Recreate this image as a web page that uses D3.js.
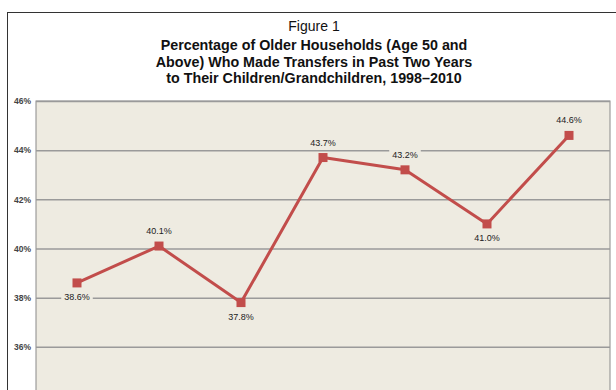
<!DOCTYPE html>
<html><head><meta charset="utf-8">
<script src="https://cdn.jsdelivr.net/npm/d3@7/dist/d3.min.js"></script>
<style>body{margin:0;background:#fff}svg{display:block}</style>
</head><body>
<svg id="c" width="616" height="390"></svg>
<script>
const years = ["1998","2000","2002","2004","2006","2008","2010"];
const values = [38.6, 40.1, 37.8, 43.7, 43.2, 41.0, 44.6];
const labelPos = ["below","above","below","above","above","below","above"];
const yTicks = [36, 38, 40, 42, 44, 46];
const titleLines = ["Percentage of Older Households (Age 50 and","Above) Who Made Transfers in Past Two Years","to Their Children/Grandchildren, 1998\u20132010"];

const svg = d3.select("#c");
const plot = {l: 36, r: 610, t: 101, b: 440};

svg.append("rect").attr("x", 7.5).attr("y", 12.5).attr("width", 640).attr("height", 420)
  .attr("fill", "#fff").attr("stroke", "#333").attr("stroke-width", 1);

svg.append("text").attr("x", 314).attr("y", 31).attr("text-anchor", "middle")
  .attr("font-family", "Liberation Sans, Arial, sans-serif").attr("font-size", 14).attr("fill", "#111")
  .text("Figure 1");
titleLines.forEach((t, i) => {
  svg.append("text").attr("x", 314).attr("y", 50 + i * 16.5).attr("text-anchor", "middle")
    .attr("font-family", "Liberation Sans, Arial, sans-serif").attr("font-size", 14.3)
    .attr("font-weight", "bold").attr("fill", "#111").text(t);
});

const x = d3.scalePoint().domain(years).range([plot.l, plot.r]).padding(0.5);
const y = d3.scaleLinear().domain([34, 46]).range([396, plot.t]);

svg.append("rect").attr("x", plot.l).attr("y", plot.t).attr("width", plot.r - plot.l)
  .attr("height", plot.b - plot.t).attr("fill", "#eeebe1").attr("stroke", "#8a8a8a").attr("stroke-width", 1);

const yAxis = d3.axisLeft(y).tickValues(yTicks).tickSize(-(plot.r - plot.l)).tickFormat(d => d + "%");
const ga = svg.append("g").attr("transform", `translate(${plot.l},0)`).call(yAxis);
ga.select(".domain").remove();
ga.selectAll(".tick line").attr("stroke", "#9a9a9a").attr("stroke-width", 1.5);
ga.selectAll(".tick text").attr("x", -5).attr("font-family", "Liberation Sans, Arial, sans-serif")
  .attr("font-size", 8.5).attr("font-weight", "bold").attr("fill", "#444");

const line = d3.line().x((d, i) => x(years[i])).y(d => y(d));
svg.append("path").datum(values).attr("d", line).attr("fill", "none")
  .attr("stroke", "#c24d4b").attr("stroke-width", 3).attr("stroke-linejoin", "round");

svg.selectAll("rect.m").data(values).enter().append("rect").attr("class", "m")
  .attr("x", (d, i) => x(years[i]) - 4.5).attr("y", d => y(d) - 4.5)
  .attr("width", 9).attr("height", 9).attr("fill", "#c24d4b");

const lg = svg.append("g");
values.forEach((v, i) => {
  const cx = x(years[i]);
  const cy = labelPos[i] === "above" ? y(v) - 12 : y(v) + 17;
  const txt = v.toFixed(1) + "%";
  const t = lg.append("text").attr("x", cx).attr("y", cy).attr("text-anchor", "middle")
    .attr("font-family", "Liberation Sans, Arial, sans-serif").attr("font-size", 9).attr("fill", "#222").text(txt);
  const bb = t.node().getBBox();
  lg.insert("rect", "text").attr("x", bb.x - 3).attr("y", bb.y).attr("width", bb.width + 6).attr("height", bb.height)
    .attr("fill", "#eeebe1");
});
</script>
</body></html>
